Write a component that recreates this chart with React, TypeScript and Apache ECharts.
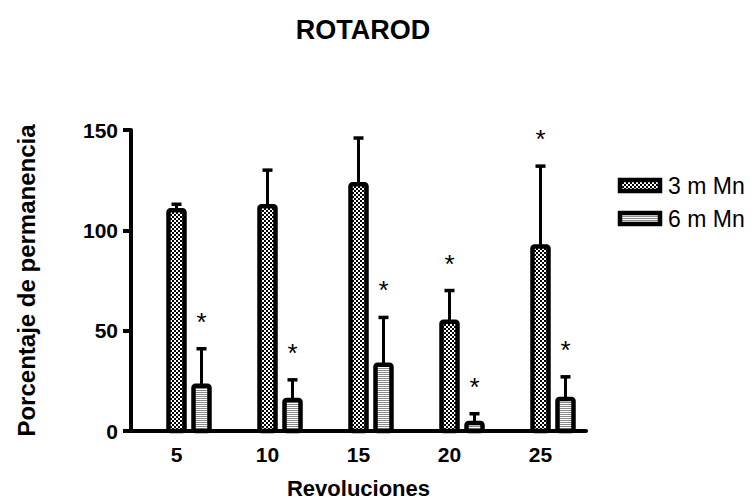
import React, { useEffect, useRef } from "react";
import * as echarts from "echarts";

const titleText = "ROTAROD";
const xAxisName = "Revoluciones";
const yAxisName = "Porcentaje de permanencia";
const categories = ["5", "10", "15", "20", "25"];
const seriesNames = ["3 m Mn", "6 m Mn"];
const mean3m = [110, 112, 123, 54.5, 92];
const sem3m = [3, 18, 23, 15.5, 40];
const mean6m = [22.5, 15.5, 33, 4, 16];
const sem6m = [18.5, 10, 23.6, 4.6, 11];
const sig3m = [false, false, false, true, true];
const sig6m = [true, true, true, true, true];
const yMin = 0;
const yMax = 150;
const yInterval = 50;

const FONT = "Arial, 'Liberation Sans', Helvetica, sans-serif";

function makeChecker(): HTMLCanvasElement {
  const c = document.createElement("canvas");
  c.width = 4;
  c.height = 4;
  const ctx = c.getContext("2d")!;
  ctx.fillStyle = "#ffffff";
  ctx.fillRect(0, 0, 4, 4);
  ctx.fillStyle = "#000000";
  ctx.fillRect(0, 0, 2, 2);
  ctx.fillRect(2, 2, 2, 2);
  return c;
}

function makeStripes(): HTMLCanvasElement {
  const c = document.createElement("canvas");
  c.width = 4;
  c.height = 2;
  const ctx = c.getContext("2d")!;
  ctx.fillStyle = "#ffffff";
  ctx.fillRect(0, 0, 4, 2);
  ctx.fillStyle = "#8a8a8a";
  ctx.fillRect(0, 0, 4, 1);
  return c;
}

export default function App() {
  const ref = useRef<HTMLDivElement>(null);

  useEffect(() => {
    if (!ref.current) return;
    const chart = echarts.init(ref.current, null, { renderer: "svg" });
    const checker = { image: makeChecker(), repeat: "repeat", imageWidth: 4, imageHeight: 4 } as any;
    const stripes = { image: makeStripes(), repeat: "repeat", imageWidth: 4, imageHeight: 2 } as any;

    const makeRender = (offsetPx: number, fill: any, sig: boolean[]) =>
      (params: any, api: any) => {
        const idx = api.value(0);
        const val = api.value(1);
        const err = api.value(2);
        const base = api.coord([idx, 0]);
        const top = api.coord([idx, val]);
        const errTop = api.coord([idx, val + err]);
        const cx = base[0] + offsetPx;
        const children: any[] = [
          {
            type: "line",
            shape: { x1: cx, y1: top[1], x2: cx, y2: errTop[1] },
            style: { stroke: "#000", lineWidth: 3 },
          },
          {
            type: "line",
            shape: { x1: cx - 5, y1: errTop[1], x2: cx + 5, y2: errTop[1] },
            style: { stroke: "#000", lineWidth: 3.5 },
          },
          {
            type: "rect",
            shape: { x: cx - 8, y: top[1], width: 16, height: base[1] - top[1], r: 2 },
            style: { fill, stroke: "#000", lineWidth: 4.5 },
          },
        ];
        if (sig[idx]) {
          children.push({
            type: "text",
            x: cx,
            y: errTop[1] - 27,
            style: {
              text: "*",
              fontSize: 26,
              fontFamily: FONT,
              fill: "#000",
              align: "center",
              verticalAlign: "middle",
            },
          });
        }
        return { type: "group", children };
      };

    const legendItems = [
      { name: seriesNames[0], fill: checker, y: 186 },
      { name: seriesNames[1], fill: stripes, y: 219 },
    ];

    chart.setOption({
      animation: false,
      backgroundColor: "#ffffff",
      title: {
        text: titleText,
        left: 358,
        top: 11,
        textAlign: "center",
        textStyle: { fontSize: 27, fontWeight: "bold", fontFamily: FONT, color: "#000" },
      },
      grid: { left: 131, right: 168, top: 130, bottom: 70, containLabel: false },
      xAxis: {
        type: "category",
        data: categories,
        boundaryGap: true,
        name: xAxisName,
        nameLocation: "middle",
        nameGap: 46,
        nameTextStyle: { fontSize: 22, fontWeight: "bold", fontFamily: FONT, color: "#000" },
        axisLine: { lineStyle: { color: "#000", width: 4 } },
        axisTick: { alignWithLabel: true, length: 8, lineStyle: { color: "#000", width: 4 } },
        axisLabel: { margin: 13, fontSize: 21, fontWeight: "bold", fontFamily: FONT, color: "#000" },
        splitLine: { show: false },
      },
      yAxis: {
        type: "value",
        min: yMin,
        max: yMax,
        interval: yInterval,
        name: yAxisName,
        nameLocation: "middle",
        nameGap: 93,
        nameTextStyle: { fontSize: 24, fontWeight: "bold", fontFamily: FONT, color: "#000" },
        axisLine: { show: true, lineStyle: { color: "#000", width: 4 } },
        axisTick: { show: true, length: 8, lineStyle: { color: "#000", width: 4 } },
        axisLabel: { margin: 13, fontSize: 21, fontWeight: "bold", fontFamily: FONT, color: "#000" },
        splitLine: { show: false },
      },
      series: [
        {
          name: seriesNames[0],
          type: "custom",
          renderItem: makeRender(0, checker, sig3m),
          encode: { x: 0, y: 1 },
          data: categories.map((_, i) => [i, mean3m[i], sem3m[i]]),
        },
        {
          name: seriesNames[1],
          type: "custom",
          renderItem: makeRender(25, stripes, sig6m),
          encode: { x: 0, y: 1 },
          data: categories.map((_, i) => [i, mean6m[i], sem6m[i]]),
        },
      ],
      graphic: legendItems.flatMap((it) => [
        {
          type: "rect",
          shape: { x: 620, y: it.y - 6, width: 40, height: 11 },
          style: { fill: it.fill, stroke: "#000", lineWidth: 4.5 },
        },
        {
          type: "text",
          x: 668,
          y: it.y,
          style: {
            text: it.name,
            fontSize: 23,
            fontFamily: FONT,
            fill: "#000",
            verticalAlign: "middle",
          },
        },
      ]),
    });

    return () => chart.dispose();
  }, []);

  return (
    <div
      ref={ref}
      style={{ position: "fixed", left: 0, top: 0, width: 754, height: 504, background: "#fff" }}
    />
  );
}
